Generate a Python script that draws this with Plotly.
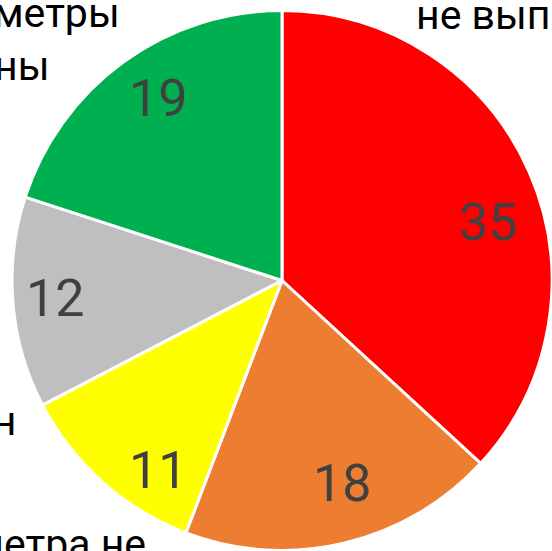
import plotly.graph_objects as go

categories = ["Все параметры не выполнены", "3 параметра не выполнены",
              "2 параметра не выполнены", "1 параметр не выполнен",
              "Все параметры выполнены"]
values = [35, 18, 11, 12, 19]
colors = ["#FF0000", "#ED7D31", "#FFFF00", "#BFBFBF", "#00B050"]

W, H = 552, 551
L, T, R, B = 12, 10, 0, 0
pw, ph = W - L - R, H - T - B

def px(x):
    return (x - L) / pw

def py(y):
    return 1 - (y - T) / ph

fig = go.Figure()
fig.add_trace(go.Pie(
    labels=categories, values=values, sort=False, direction="clockwise",
    rotation=0, marker=dict(colors=colors, line=dict(color="white", width=3)),
    textinfo="none", showlegend=False, hoverinfo="label+value",
))

# value-label placement (pixel centres, as in the reference's "best fit" layout)
value_label_pos = [(488, 222), (342, 483), (158, 470), (55, 298), (158, 98)]
num_font = dict(family="Roboto", size=52, color="#404040")
for v, (x, y) in zip(values, value_label_pos):
    fig.add_annotation(xref="paper", yref="paper", showarrow=False, font=num_font,
                       text=str(v), x=px(x), y=py(y), xanchor="center", yanchor="middle")

lab_font = dict(family="Roboto", size=41, color="#000000")
ann = [
    dict(text="Все параметры<br>не выполнены", x=px(414), y=py(-11), xanchor="left", yanchor="middle", align="left"),
    dict(text="Все параметры<br>выполнены", x=px(122), y=py(39), xanchor="right", yanchor="middle", align="left"),
    dict(text="1 параметр<br>не выполнен", x=px(18), y=py(394), xanchor="right", yanchor="middle", align="left"),
    dict(text="2 параметра не<br>выполнены", x=px(148), y=py(570), xanchor="right", yanchor="middle", align="left"),
]
for a in ann:
    fig.add_annotation(xref="paper", yref="paper", showarrow=False, font=lab_font, **a)

fig.update_layout(width=W, height=H, margin=dict(l=L, r=R, t=T, b=B),
                  paper_bgcolor="white", plot_bgcolor="white")
fig.write_html("out.html")
